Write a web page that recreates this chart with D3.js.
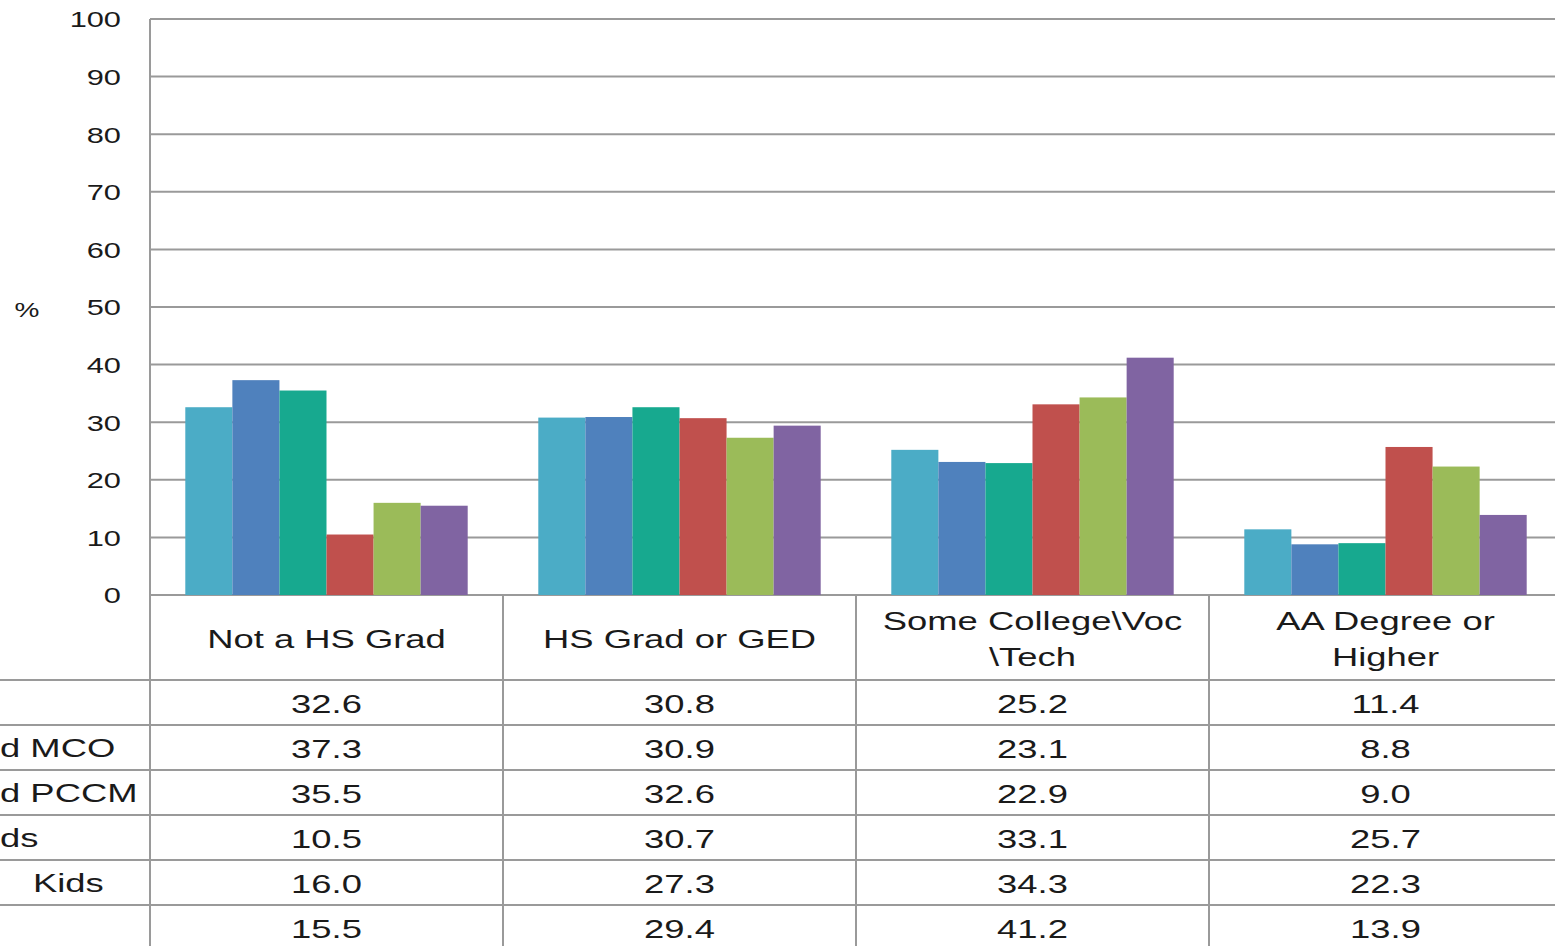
<!DOCTYPE html>
<html>
<head>
<meta charset="utf-8">
<script src="https://cdn.jsdelivr.net/npm/d3@7"></script>
<style>
  body { margin: 0; background: #fff; overflow: hidden; }
  text { font-family: "Liberation Sans", Arial, sans-serif; fill: #1a1a1a; }
</style>
</head>
<body>
<div id="chart"></div>
<script>
// grouped bars with a data table under the axis

const categories = ["Not a HS Grad", "HS Grad or GED", "Some College\\Voc\n\\Tech", "AA Degree or\nHigher"];
const rowLabels = ["", "d MCO", "d PCCM", "ds", "Kids", ""];
const series1 = [32.6, 30.8, 25.2, 11.4];
const series2 = [37.3, 30.9, 23.1, 8.8];
const series3 = [35.5, 32.6, 22.9, 9.0];
const series4 = [10.5, 30.7, 33.1, 25.7];
const series5 = [16.0, 27.3, 34.3, 22.3];
const series6 = [15.5, 29.4, 41.2, 13.9];
const yTicks = [0, 10, 20, 30, 40, 50, 60, 70, 80, 90, 100];
const colors = ["#4BACC6", "#4F81BD", "#17A98F", "#C0504D", "#9BBB59", "#8064A2"];

const allSeries = [series1, series2, series3, series4, series5, series6];
const W = 1555, H = 946;
const left = 150, plotTop = 19, plotBottom = 595;
const colW = 353;
const rowTop = 680, rowH = 45;
const SX = 1.4; // the source picture is stretched sideways
const grid = "#9a9a9a";

const svg = d3.select("#chart").append("svg")
  .attr("width", W)
  .attr("height", H);

const x = d3.scaleBand()
  .domain(d3.range(categories.length))
  .range([left, left + colW * categories.length])
  .paddingInner(0.2)
  .paddingOuter(0.1);

const xs = d3.scaleBand()
  .domain(d3.range(allSeries.length))
  .range([0, x.bandwidth()]);

const y = d3.scaleLinear()
  .domain([0, 100])
  .range([plotBottom, plotTop]);

function place(sel, px, py) {
  sel.attr("transform", `translate(${px},${py}) scale(${SX},1)`);
}

// gridlines
svg.append("g").selectAll("line")
  .data(yTicks)
  .enter().append("line")
  .attr("x1", left).attr("x2", W)
  .attr("y1", d => y(d)).attr("y2", d => y(d))
  .attr("stroke", grid).attr("stroke-width", 2);

// tick labels
svg.append("g").selectAll("text")
  .data(yTicks)
  .enter().append("text")
  .attr("text-anchor", "end")
  .attr("dominant-baseline", "central")
  .style("font-size", "22px")
  .text(d => d)
  .each(function(d) { place(d3.select(this), 121, y(d) + 1); });

place(svg.append("text")
  .attr("text-anchor", "middle")
  .attr("dominant-baseline", "central")
  .style("font-size", "20px")
  .text("%"), 27, y(50) + 3);

// bars
const groups = svg.append("g").selectAll("g")
  .data(allSeries)
  .enter().append("g")
  .attr("fill", (d, i) => colors[i]);

groups.selectAll("rect")
  .data((s, si) => s.map((v, ci) => ({ v, ci, si })))
  .enter().append("rect")
  .attr("x", d => x(d.ci) + xs(d.si))
  .attr("y", d => y(d.v))
  .attr("width", xs.bandwidth())
  .attr("height", d => y(0) - y(d.v));

// table lines
const table = svg.append("g").attr("stroke", grid).attr("stroke-width", 2);
table.append("line")
  .attr("x1", left).attr("x2", left)
  .attr("y1", plotTop).attr("y2", H);
d3.range(1, categories.length + 1).forEach(i => {
  table.append("line")
    .attr("x1", left + i * colW).attr("x2", left + i * colW)
    .attr("y1", plotBottom).attr("y2", H);
});
d3.range(rowLabels.length).forEach(r => {
  table.append("line")
    .attr("x1", 0).attr("x2", W)
    .attr("y1", rowTop + r * rowH).attr("y2", rowTop + r * rowH);
});

// category headers
categories.forEach((c, i) => {
  const lines = c.split("\n");
  const cx = x(i) + x.bandwidth() / 2;
  const cy = (plotBottom + rowTop) / 2;
  lines.forEach((ln, k) => {
    place(svg.append("text")
      .attr("text-anchor", "middle")
      .attr("dominant-baseline", "central")
      .style("font-size", "26px")
      .text(ln), cx, cy + (k - (lines.length - 1) / 2) * 36 + 1);
  });
});

// row labels (cut off at the left edge)
rowLabels.forEach((lab, r) => {
  place(svg.append("text")
    .attr("dominant-baseline", "central")
    .style("font-size", "26px")
    .text(lab), r === 4 ? 33 : 0, rowTop + r * rowH + rowH / 2);
});

// values
allSeries.forEach((s, r) => {
  s.forEach((v, ci) => {
    place(svg.append("text")
      .attr("text-anchor", "middle")
      .attr("dominant-baseline", "central")
      .style("font-size", "26px")
      .text(v.toFixed(1)), x(ci) + x.bandwidth() / 2, rowTop + r * rowH + rowH / 2 + 1);
  });
});
</script>
</body>
</html>
